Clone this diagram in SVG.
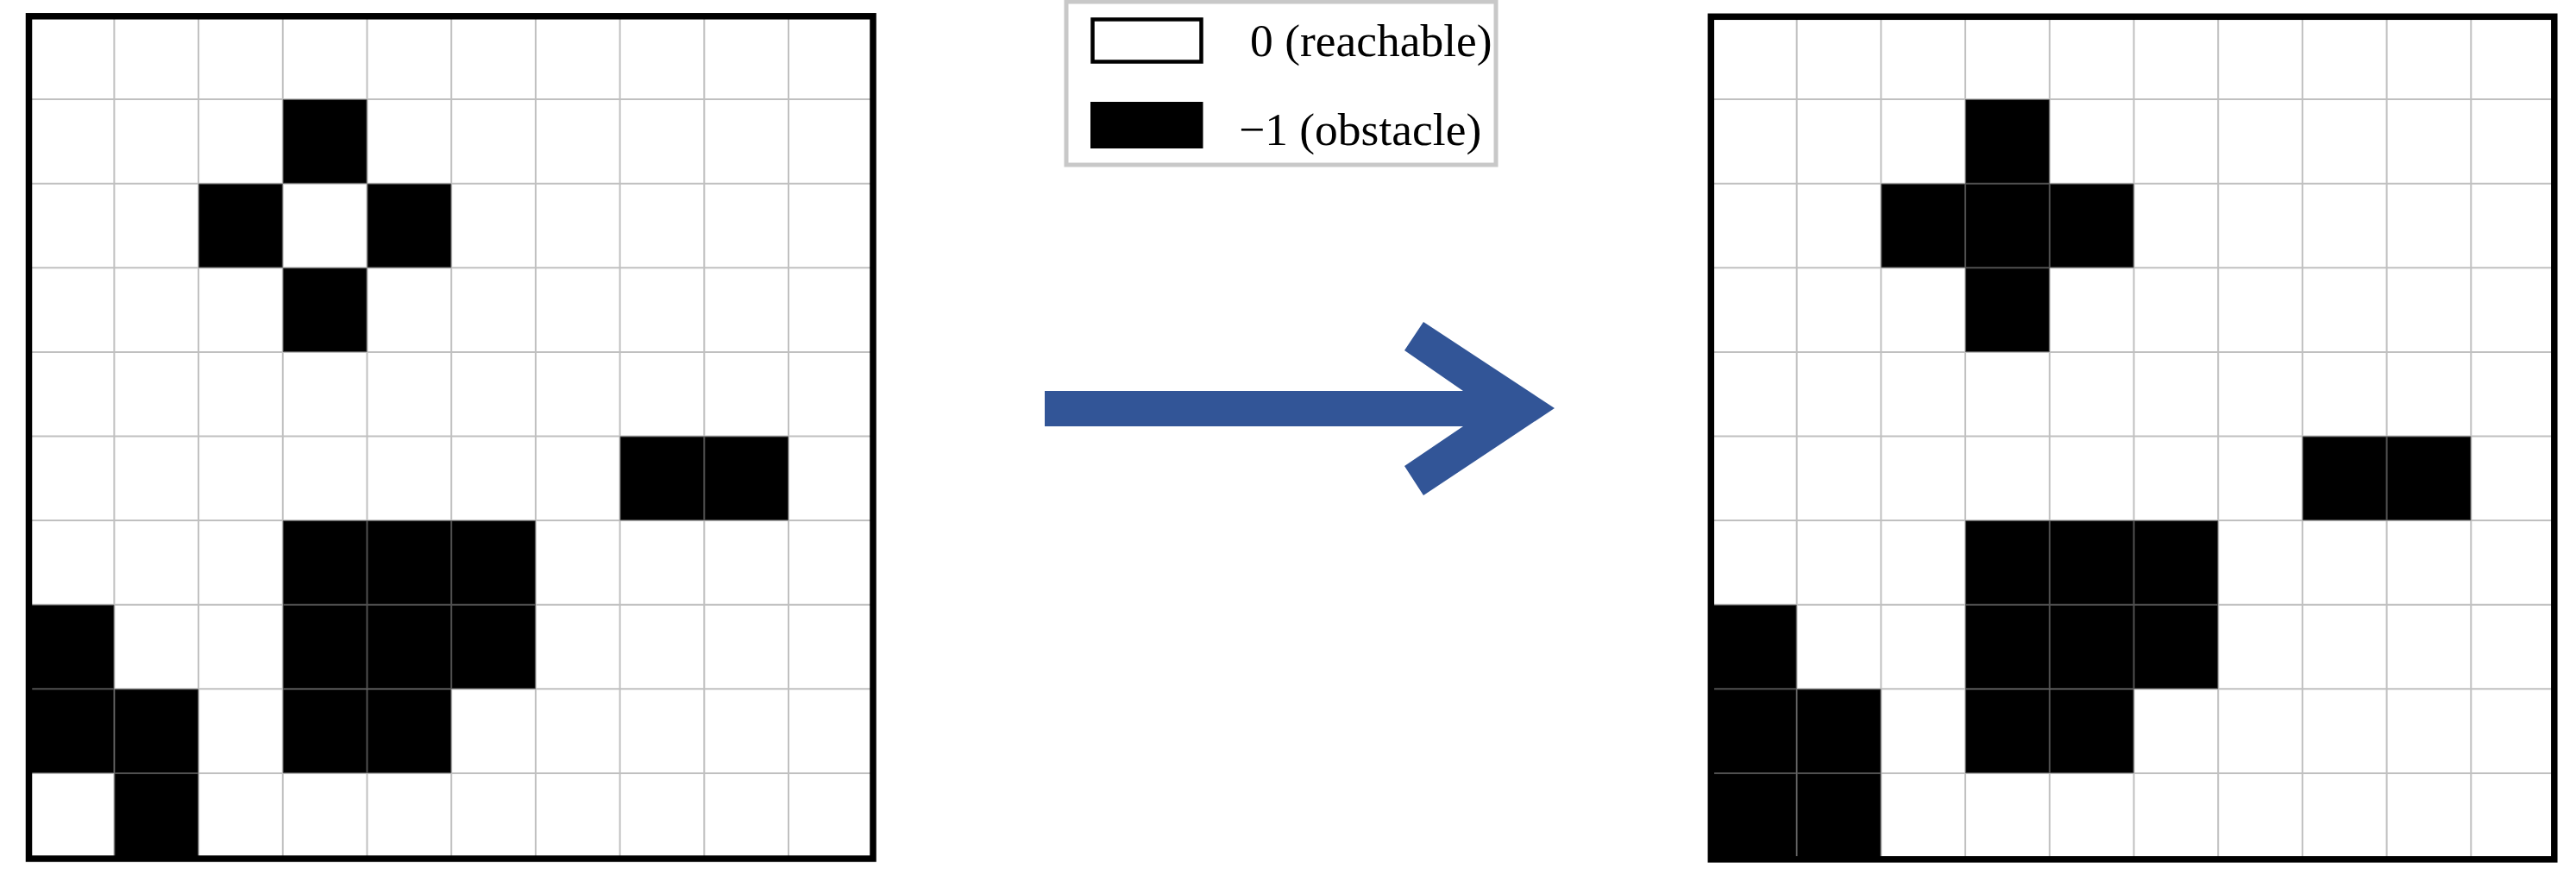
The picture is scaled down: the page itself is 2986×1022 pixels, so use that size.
<svg xmlns="http://www.w3.org/2000/svg" width="2986" height="1022" viewBox="0 0 2986 1022">
<style>
.cell{fill:#000}
.gl{stroke:#8f8f8f;stroke-opacity:0.56;stroke-width:2;fill:none}
.frame{fill:none;stroke:#000;stroke-width:7.5;stroke-linejoin:miter}
.lbl{font-family:"Liberation Serif","Times New Roman",serif;font-size:53.5px;fill:#000}
</style>
<defs>
<g id="gridlines">
<path class="gl" d="M97.7,0V976M195.4,0V976M293.1,0V976M390.8,0V976M488.5,0V976M586.2,0V976M683.9,0V976M781.6,0V976M879.3,0V976M0,97.6H977M0,195.2H977M0,292.8H977M0,390.4H977M0,488H977M0,585.6H977M0,683.2H977M0,780.8H977M0,878.4H977"/>
</g>
</defs>
<rect width="2986" height="1022" fill="#fff"/>
<g id="grid-before" transform="translate(34.7,17.5)">
<rect class="cell" x="293.1" y="97.6" width="97.7" height="97.6"/>
<rect class="cell" x="195.4" y="195.2" width="97.7" height="97.6"/>
<rect class="cell" x="390.8" y="195.2" width="97.7" height="97.6"/>
<rect class="cell" x="293.1" y="292.8" width="97.7" height="97.6"/>
<rect class="cell" x="683.9" y="488" width="195.4" height="97.6"/>
<rect class="cell" x="293.1" y="585.6" width="293.1" height="195.2"/>
<rect class="cell" x="0" y="683.2" width="97.7" height="195.2"/>
<rect class="cell" x="97.7" y="780.8" width="97.7" height="195.2"/>
<rect class="cell" x="293.1" y="780.8" width="195.4" height="97.6"/>
<use href="#gridlines"/>
<rect class="frame" x="-1.2" y="1.3" width="978.5" height="976.2"/>
</g>
<g id="grid-after" transform="translate(1985,17.5)">
<rect class="cell" x="293.1" y="97.6" width="97.7" height="292.8"/>
<rect class="cell" x="195.4" y="195.2" width="293.1" height="97.6"/>
<rect class="cell" x="683.9" y="488" width="195.4" height="97.6"/>
<rect class="cell" x="293.1" y="585.6" width="293.1" height="195.2"/>
<rect class="cell" x="0" y="683.2" width="97.7" height="292.8"/>
<rect class="cell" x="97.7" y="780.8" width="97.7" height="195.2"/>
<rect class="cell" x="293.1" y="780.8" width="195.4" height="97.6"/>
<use href="#gridlines"/>
<rect class="frame" x="-1.7" y="1.8" width="977.5" height="976.5"/>
</g>
<g id="legend">
<rect x="1236" y="2" width="498" height="189" fill="#fff" stroke="#c8c8c8" stroke-width="5"/>
<rect x="1266.5" y="22.5" width="126" height="49" fill="#fff" stroke="#000" stroke-width="4.5"/>
<rect x="1264" y="118" width="130.5" height="54" fill="#000"/>
<text class="lbl" x="1449" y="65">0 (reachable)</text>
<text class="lbl" x="1436" y="168">−1 (obstacle)</text>
</g>
<g id="connectors">
<polygon fill="#325597" points="1211,453 1696,453 1628,406 1650,373 1802,473 1650,574 1628,540 1696,494 1211,494"/>
</g>
</svg>
